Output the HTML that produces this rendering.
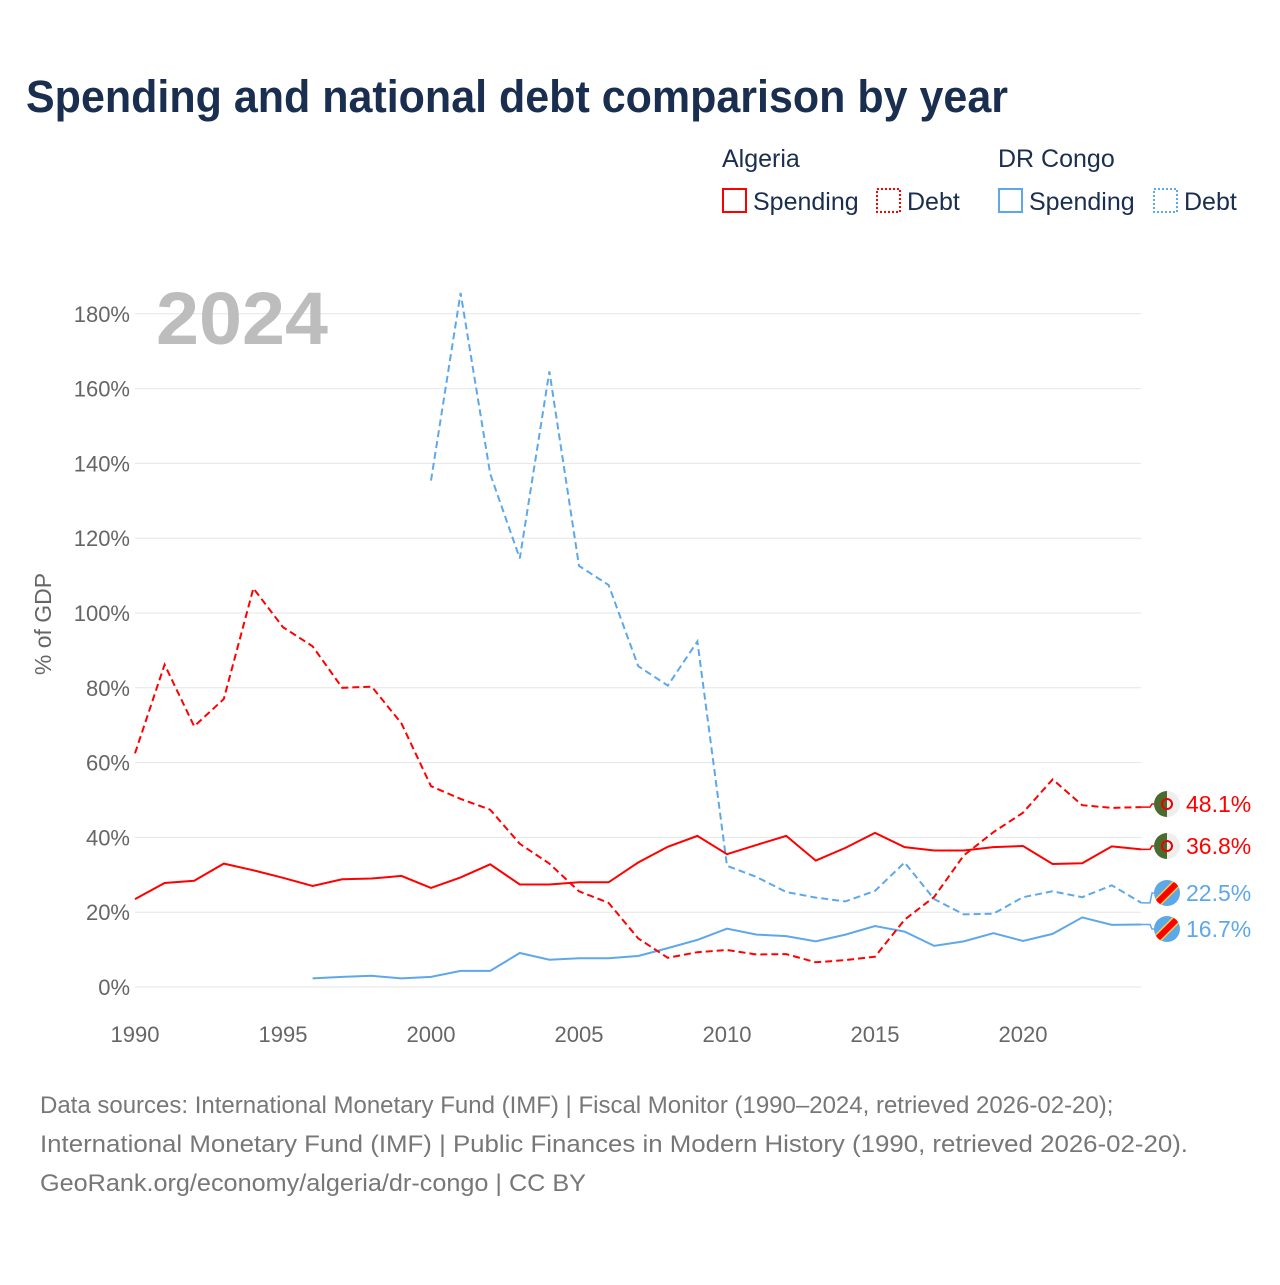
<!DOCTYPE html>
<html><head><meta charset="utf-8"><style>
body{margin:0;background:#fff;font-family:"Liberation Sans",sans-serif}
svg text{font-family:"Liberation Sans",sans-serif}
</style></head><body>
<svg width="1280" height="1280" xmlns="http://www.w3.org/2000/svg">
<defs>
<clipPath id="c1"><circle cx="0" cy="0" r="13"/></clipPath>
</defs>
<text x="26" y="112" font-size="45" font-weight="bold" fill="#1a2e4f" textLength="982" lengthAdjust="spacingAndGlyphs">Spending and national debt comparison by year</text>
<g font-size="25" fill="#1a2e4f">
<text x="722" y="167">Algeria</text>
<text x="998" y="167">DR Congo</text>
<rect x="723" y="189" width="23" height="23" fill="none" stroke="#f00" stroke-width="2"/>
<text x="753" y="210">Spending</text>
<rect x="877" y="189" width="23" height="23" fill="none" stroke="#f00" stroke-width="2" stroke-dasharray="2,2"/>
<text x="907" y="210">Debt</text>
<rect x="999" y="189" width="23" height="23" fill="none" stroke="#5ea8ea" stroke-width="2"/>
<text x="1029" y="210">Spending</text>
<rect x="1154" y="189" width="23" height="23" fill="none" stroke="#5ea8ea" stroke-width="2" stroke-dasharray="2,2"/>
<text x="1184" y="210">Debt</text>
</g>
<g id="grid"></g>
<text x="156" y="344" font-size="74" font-weight="bold" fill="#bdbdbd" textLength="172" lengthAdjust="spacingAndGlyphs">2024</text>
<text transform="translate(51,624) rotate(-90)" text-anchor="middle" font-size="23" fill="#666">% of GDP</text>
<g id="series"></g>
<g id="endlabels"></g>
<g font-size="24" fill="#777">
<text x="40" y="1113">Data sources: International Monetary Fund (IMF) | Fiscal Monitor (1990–2024, retrieved 2026-02-20);</text>
<text x="40" y="1152" textLength="1148" lengthAdjust="spacingAndGlyphs">International Monetary Fund (IMF) | Public Finances in Modern History (1990, retrieved 2026-02-20).</text>
<text x="40" y="1191" textLength="546" lengthAdjust="spacingAndGlyphs">GeoRank.org/economy/algeria/dr-congo | CC BY</text>
</g>
</svg>
<script>
const years=[];for(let y=1990;y<=2024;y++)years.push(y);
const xTicks=[1990,1995,2000,2005,2010,2015,2020];
const yTicks=[0,20,40,60,80,100,120,140,160,180];
const algeriaSpending=[23.5,27.8,28.4,33,31.2,29.2,27,28.8,29,29.7,26.5,29.3,32.8,27.4,27.4,28,28,33.3,37.5,40.4,35.5,38,40.4,33.8,37.2,41.2,37.4,36.5,36.5,37.4,37.7,32.9,33.1,37.6,36.8];
const algeriaDebt=[62.5,86.2,69.7,77,106.6,96.2,91.1,80,80.3,70.5,53.7,50.3,47.4,38.3,33,25.6,22.5,13,7.8,9.3,9.9,8.7,8.8,6.6,7.2,8.1,18,24.1,35.2,41.4,46.6,55.5,48.6,47.9,48.1];
const drcSpending=[null,null,null,null,null,null,2.3,2.7,3,2.3,2.7,4.3,4.3,9.1,7.3,7.7,7.7,8.3,10.4,12.6,15.6,14,13.6,12.2,14,16.3,14.8,11,12.2,14.4,12.3,14.2,18.6,16.6,16.7];
const drcDebt=[null,null,null,null,null,null,null,null,null,null,135.4,185.6,137.2,114.6,164.6,112.6,107.5,85.8,80.6,92.4,32.4,29.4,25.4,23.9,22.9,25.7,33.3,23.5,19.4,19.6,24,25.6,24,27.2,22.5];
const X=y=>135+(y-1990)*29.6;
const Y=v=>987-v*3.74;
const NS="http://www.w3.org/2000/svg";
function mk(tag,attrs,parent){const e=document.createElementNS(NS,tag);for(const k in attrs)e.setAttribute(k,attrs[k]);parent.appendChild(e);return e;}
const grid=document.getElementById('grid');
yTicks.forEach(v=>{
 const l=mk('line',{x1:135,x2:1141,y1:Y(v),y2:Y(v),stroke:'#e6e6e6','stroke-width':1},grid);
 
 
 const t=mk('text',{x:130,y:Y(v)+8,'text-anchor':'end','font-size':22,fill:'#666'},grid);
 t.textContent=v+'%';
 
 
});
xTicks.forEach(y=>{
 const t=mk('text',{x:X(y),y:1042,'text-anchor':'middle','font-size':22,fill:'#666'},grid);
 t.textContent=y;
 
 
});
const ser=document.getElementById('series');
function draw(vals,color,dash,name){
 let d='';let pen=false;
 vals.forEach((v,i)=>{if(v==null){pen=false;return;}d+=(pen?'L':'M')+X(years[i]).toFixed(1)+','+Y(v).toFixed(1);pen=true;});
 const p=mk('path',{d:d,fill:'none',stroke:color,'stroke-width':2,'stroke-dasharray':dash||'none'},ser);
 
 
}
draw(drcDebt,'#5ea8ea','7,4','line-drc-debt');
draw(drcSpending,'#5ea8ea','','line-drc-spending');
draw(algeriaDebt,'#f00','7,4','line-algeria-debt');
draw(algeriaSpending,'#f00','','line-algeria-spending');
const el=document.getElementById('endlabels');
const ends=[[algeriaDebt,804,'#f00','dz','algeria-debt'],[algeriaSpending,846,'#f00','dz','algeria-spending'],[drcDebt,893,'#5ea8ea','cd','drc-debt'],[drcSpending,929,'#5ea8ea','cd','drc-spending']];
ends.forEach(([vals,ly,col,flag,nm])=>{
 const v=vals[vals.length-1];
 mk('path',{d:`M${X(2024)},${Y(v)}L1150,${Y(v)}L1152,${ly}L1154,${ly}`,fill:'none',stroke:col,'stroke-width':1.5},el);
 const g=mk('g',{transform:`translate(1167,${ly})`},el);
 
 
 const gg=mk('g',{'clip-path':'url(#c1)'},g);
 if(flag==='dz'){
  mk('rect',{x:-13,y:-13,width:13,height:26,fill:'#4a6b2f'},gg);
  mk('rect',{x:0,y:-13,width:13,height:26,fill:'#eee'},gg);
  mk('circle',{cx:0,cy:0,r:5,fill:'none',stroke:'#e00','stroke-width':2},gg);
 }else{
  mk('rect',{x:-13,y:-13,width:26,height:26,fill:'#5ea8ea'},gg);
  mk('line',{x1:-14,y1:14,x2:14,y2:-14,stroke:'#f4d03f','stroke-width':9},gg);
  mk('line',{x1:-14,y1:14,x2:14,y2:-14,stroke:'#f00','stroke-width':6},gg);
 }
 const t=mk('text',{x:1186,y:ly+8,'font-size':23,fill:col},el);
 t.textContent=v.toFixed(1)+'%';
 
 
});
</script>
</body></html>
